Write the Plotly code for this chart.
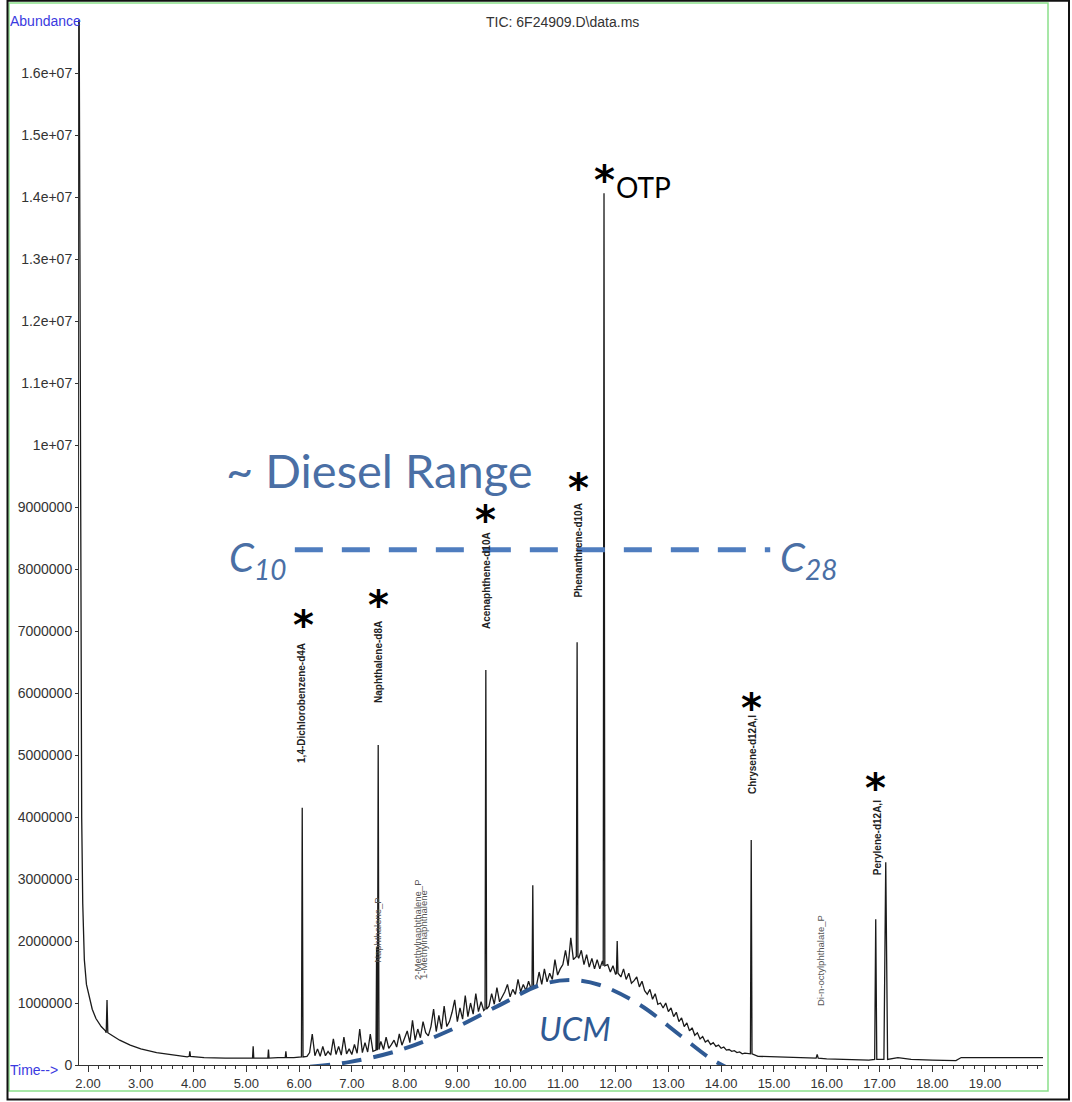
import plotly.graph_objects as go

# ---------------- data ----------------
# background trace points outside the hump (retention time in min, abundance)
base_t = [1.832, 1.86, 1.88, 1.90, 1.93, 1.97, 2.02, 2.08, 2.15, 2.25, 2.33,
          2.45, 2.60, 2.80, 3.00, 3.30, 3.60, 3.88, 4.20, 4.60, 5.00, 5.30,
          5.60, 5.90, 14.50, 14.70, 15.00, 15.50, 16.00, 16.50, 16.80, 17.35,
          17.60, 18.00, 18.45, 18.55, 19.20, 20.10]
base_y = [1.70e7, 8.0e6, 4.0e6, 2.6e6, 1.7e6, 1.3e6, 1.1e6, 0.9e6, 0.75e6,
          0.62e6, 0.55e6, 0.48e6, 0.40e6, 0.32e6, 0.26e6, 0.20e6, 0.16e6,
          0.13e6, 0.12e6, 0.11e6, 0.11e6, 0.11e6, 0.12e6, 0.12e6, 0.18e6,
          0.14e6, 0.13e6, 0.11e6, 0.10e6, 0.09e6, 0.08e6, 0.12e6, 0.09e6,
          0.08e6, 0.07e6, 0.12e6, 0.12e6, 0.12e6]

# noisy hump between 6.15 and 14.45 min, sampled every 0.05 min (abundance in millions)
hump_t = [round(6.15 + 0.05 * i, 2) for i in range(167)]
hump_y_m = [
    0.14, 0.20, 0.50, 0.15, 0.26, 0.14, 0.30, 0.15, 0.22, 0.16,   # 6.15-6.60
    0.42, 0.17, 0.30, 0.16, 0.45, 0.18, 0.26, 0.17, 0.33, 0.19,   # 6.65-7.10
    0.58, 0.20, 0.36, 0.21, 0.50, 0.22, 0.24, 0.25, 0.38, 0.25,   # 7.15-7.60
    0.45, 0.27, 0.33, 0.40, 0.29, 0.50, 0.32, 0.45, 0.55, 0.36,   # 7.65-8.10
    0.72, 0.40, 0.58, 0.44, 0.70, 0.52, 0.47, 0.62, 0.90, 0.54,   # 8.15-8.60
    0.80, 0.58, 0.95, 0.62, 0.70, 0.85, 1.05, 0.70, 0.92, 0.74,   # 8.65-9.10
    1.12, 0.78, 1.00, 0.82, 1.15, 0.86, 1.02, 0.88, 0.90, 0.95,   # 9.15-9.60
    1.15, 0.98, 1.25, 1.02, 1.10, 1.18, 1.30, 1.10, 1.22, 1.14,   # 9.65-10.10
    1.38, 1.18, 1.30, 1.20, 1.35, 1.22, 1.25, 1.28, 1.50, 1.30,   # 10.15-10.60
    1.55, 1.34, 1.48, 1.38, 1.70, 1.45, 1.55, 1.62, 1.85, 1.60,   # 10.65-11.10
    2.05, 1.70, 1.95, 1.72, 1.85, 1.62, 1.78, 1.58, 1.72, 1.55,   # 11.15-11.60
    1.70, 1.55, 1.68, 1.60, 1.62, 1.50, 1.60, 1.46, 1.45, 1.42,   # 11.65-12.10
    1.55, 1.38, 1.48, 1.32, 1.36, 1.42, 1.26, 1.35, 1.20, 1.14,   # 12.15-12.60
    1.22, 1.06, 1.15, 0.98, 1.00, 0.92, 1.00, 0.86, 0.92, 0.78,   # 12.65-13.10
    0.85, 0.70, 0.76, 0.62, 0.68, 0.55, 0.60, 0.48, 0.52, 0.42,   # 13.15-13.60
    0.46, 0.37, 0.40, 0.33, 0.36, 0.30, 0.32, 0.27, 0.29, 0.24,   # 13.65-14.10
    0.25, 0.22, 0.23, 0.20, 0.21, 0.18, 0.19]                     # 14.15-14.45

# peaks: retention time, apex abundance, abundance at the foot, half width (min)
peak_t = [2.36, 3.93, 5.13, 5.42, 5.75, 6.06, 7.47, 7.50, 9.54, 10.43, 11.27,
          11.78, 12.03, 14.57, 15.82, 16.93, 17.12]
peak_top = [1.05e6, 0.22e6, 0.30e6, 0.25e6, 0.22e6, 4.15e6, 1.90e6, 5.16e6,
            6.37e6, 2.90e6, 6.82e6, 14.06e6, 2.00e6, 3.63e6, 0.17e6, 2.35e6,
            3.27e6]
peak_base = [0.52e6, 0.14e6, 0.11e6, 0.11e6, 0.12e6, 0.13e6, 0.24e6, 0.25e6,
             0.90e6, 1.25e6, 1.75e6, 1.60e6, 1.48e6, 0.18e6, 0.11e6, 0.09e6,
             0.09e6]
peak_hw = [0.015, 0.012, 0.012, 0.012, 0.012, 0.015, 0.012, 0.015, 0.015,
           0.015, 0.015, 0.015, 0.015, 0.015, 0.02, 0.02, 0.035]

# UCM envelope (dashed hump)
ucm_t = [6.21, 6.97, 7.91, 8.86, 9.81, 10.57, 11.14, 11.70, 12.46, 13.22, 13.79, 14.13]
ucm_y = [-0.03e6, 0.05e6, 0.24e6, 0.56e6, 0.97e6, 1.29e6, 1.37e6, 1.29e6, 0.97e6, 0.48e6, 0.11e6, -0.05e6]

# diesel range marker
diesel_t = [5.92, 14.93]
diesel_y = [8.31e6, 8.31e6]

x_ticks = [2, 3, 4, 5, 6, 7, 8, 9, 10, 11, 12, 13, 14, 15, 16, 17, 18, 19]
x_ticklabels = ["%.2f" % v for v in x_ticks]
y_ticks = [i * 1e6 for i in range(17)]
y_ticklabels = ["0", "1000000", "2000000", "3000000", "4000000", "5000000",
                "6000000", "7000000", "8000000", "9000000", "1e+07", "1.1e+07",
                "1.2e+07", "1.3e+07", "1.4e+07", "1.5e+07", "1.6e+07"]

# compound labels (text, time, abundance at label centre, bold)
lab_text = ["1,4-Dichlorobenzene-d4A", "Naphthalene-d8A", "Acenaphthene-d10A",
            "Phenanthrene-d10A", "Chrysene-d12A,I", "Perylene-d12A,I",
            "Naphthalene_P", "2-Methylnaphthalene_P", "1-Methylnaphthalene",
            "Di-n-octylphthalate_P"]
lab_t = [6.056, 7.496, 9.54, 11.29, 14.585, 16.955, 7.496, 8.255, 8.37, 15.87]
lab_y = [5.84e6, 6.50e6, 7.82e6, 8.30e6, 5.00e6, 3.66e6, 2.18e6, 2.18e6, 2.10e6, 1.69e6]
lab_bold = [True, True, True, True, True, True, False, False, False, False]

star_t = [6.09, 7.515, 9.54, 11.29, 11.78, 14.58, 16.92]
star_y = [7.23e6, 7.55e6, 8.92e6, 9.44e6, 14.4e6, 5.89e6, 4.60e6]

# ---------------- build trace ----------------
pts = list(zip(base_t, base_y))
for t, v in zip(hump_t, hump_y_m):
    if all(abs(t - p) >= hw + 0.012 for p, hw in zip(peak_t, peak_hw)):
        pts.append((t, v * 1e6))
for t, top, b, hw in zip(peak_t, peak_top, peak_base, peak_hw):
    pts += [(t - hw, b), (t, top), (t + hw, b)]
pts.sort(key=lambda p: p[0])
tr_t = [p[0] for p in pts]
tr_y = [p[1] for p in pts]

fig = go.Figure()
fig.add_trace(go.Scatter(x=tr_t, y=tr_y, mode="lines",
                         line=dict(color="#1a1a1a", width=1.3), showlegend=False))
fig.add_trace(go.Scatter(x=ucm_t, y=ucm_y, mode="lines", line_shape="spline",
                         line=dict(color="#2f5a94", width=4, dash="20px,12px"),
                         showlegend=False, cliponaxis=False))
fig.add_trace(go.Scatter(x=diesel_t, y=diesel_y, mode="lines",
                         line=dict(color="#4f7dbf", width=5, dash="28px,19px"),
                         showlegend=False))

W, H = 1072, 1102
L, R, T, B = 79, 29, 20, 37
pw, ph = W - L - R, H - T - B

def px(x):
    return (x - L) / pw

def py(y):
    return (H - B - y) / ph

ann = []
for txt, t, y, bold in zip(lab_text, lab_t, lab_y, lab_bold):
    ann.append(dict(x=t, y=y, xref="x", yref="y", text=("<b>%s</b>" % txt) if bold else txt,
                    textangle=-90, showarrow=False,
                    font=dict(family="Liberation Sans", size=10 if bold else 9.5,
                              color="#222" if bold else "#555")))
for t, y in zip(star_t, star_y):
    ann.append(dict(x=t, y=y, xref="x", yref="y", text="<b>*</b>", showarrow=False,
                    yshift=-8, font=dict(family="DejaVu Sans", size=40, color="#000")))
ann.append(dict(x=12.52, y=14.16e6, xref="x", yref="y", text="OTP", showarrow=False,
                font=dict(family="Lato", size=28, color="#000")))
ann.append(dict(x=7.53, y=9.6e6, xref="x", yref="y", text="~ Diesel Range", showarrow=False,
                font=dict(family="Lato", size=47, color="#4a6fa5")))
ann.append(dict(x=5.22, y=8.15e6, xref="x", yref="y", text="<i>C<sub>10</sub></i>",
                showarrow=False, font=dict(family="Lato", size=40, color="#4a6fa5")))
ann.append(dict(x=15.65, y=8.15e6, xref="x", yref="y", text="<i>C<sub>28</sub></i>",
                showarrow=False, font=dict(family="Lato", size=40, color="#4a6fa5")))
ann.append(dict(x=11.23, y=0.6e6, xref="x", yref="y", text="<i>UCM</i>", showarrow=False,
                font=dict(family="Lato", size=33, color="#2f5a94")))
ann.append(dict(x=px(8), y=py(11), xref="paper", yref="paper", text="Abundance",
                xanchor="left", showarrow=False,
                font=dict(family="Liberation Sans", size=14, color="#3a3ae0")))
ann.append(dict(x=px(8), y=py(1080), xref="paper", yref="paper", text="Time-->",
                xanchor="left", showarrow=False,
                font=dict(family="Liberation Sans", size=14, color="#3a3ae0")))
ann.append(dict(x=px(562), y=py(12), xref="paper", yref="paper",
                text="TIC: 6F24909.D\\data.ms", showarrow=False,
                font=dict(family="Liberation Sans", size=14, color="#333")))

shapes = [
    dict(type="rect", xref="paper", yref="paper", x0=px(9), x1=px(1048), y0=py(1091), y1=py(3),
         line=dict(color="#8be08b", width=1.5)),
    dict(type="rect", xref="paper", yref="paper", x0=px(7.5), x1=px(1069), y0=py(1099.5), y1=py(0.8),
         line=dict(color="#111", width=2)),
]

fig.update_layout(
    width=W, height=H, margin=dict(l=L, r=R, t=T, b=B),
    paper_bgcolor="white", plot_bgcolor="white",
    annotations=ann, shapes=shapes, showlegend=False,
    xaxis=dict(range=[1.829, 1.829 + pw / 52.76], tickvals=x_ticks, ticktext=x_ticklabels,
               ticks="outside", ticklen=6, tickwidth=1, tickcolor="#333",
               showline=True, linecolor="#333", linewidth=1, showgrid=False, zeroline=False,
               tickfont=dict(family="Liberation Sans", size=13, color="#333"),
               minor=dict(dtick=0.2, ticks="outside", ticklen=3, tickcolor="#333", showgrid=False)),
    yaxis=dict(range=[0, ph / 62.0 * 1e6], tickvals=y_ticks, ticktext=y_ticklabels,
               ticks="outside", ticklen=3, tickwidth=1, tickcolor="#333",
               showline=True, linecolor="#333", linewidth=1, showgrid=False, zeroline=False,
               tickfont=dict(family="Liberation Sans", size=14, color="#333")),
)
fig.write_html("out.html", config={"displayModeBar": False},
               post_script="document.body.style.margin='0px';")
